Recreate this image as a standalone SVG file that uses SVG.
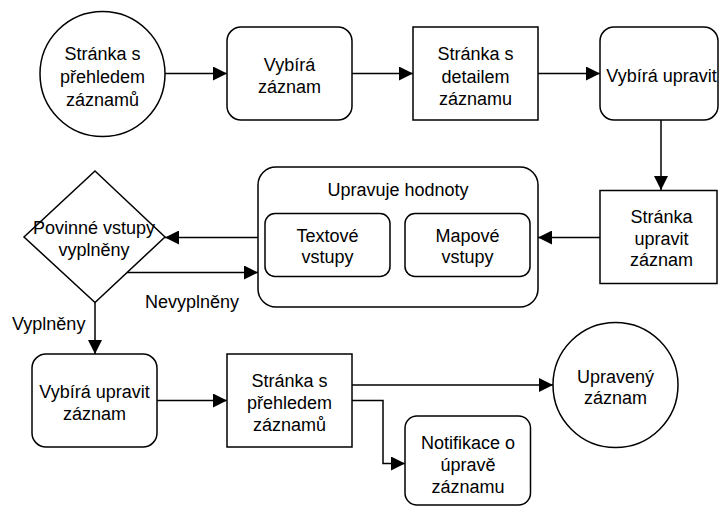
<svg xmlns="http://www.w3.org/2000/svg" width="720" height="507" viewBox="0 0 720 507">
  <style>
    .shape { fill: #ffffff; stroke: #000000; stroke-width: 1.5; }
    .edge { fill: none; stroke: #000000; stroke-width: 1.5; }
    text { font-family: "Liberation Sans", Arial, Helvetica, sans-serif; font-size: 18px; fill: #000000; text-anchor: middle; }
    .left { text-anchor: start; }
  </style>
  <defs>
    <marker id="arrow" markerUnits="userSpaceOnUse" markerWidth="15" markerHeight="14" refX="14" refY="7" orient="auto">
      <path d="M0,0 L14,7 L0,14 z" fill="#000000"/>
    </marker>
  </defs>
  <rect width="720" height="507" fill="#ffffff"/>

  <!-- connectors -->
  <g id="connectors">
    <path class="edge" d="M165,73.5 H227" marker-end="url(#arrow)"/>
    <path class="edge" d="M352,73.5 H413" marker-end="url(#arrow)"/>
    <path class="edge" d="M538,73.5 H600" marker-end="url(#arrow)"/>
    <path class="edge" d="M661,120 V190" marker-end="url(#arrow)"/>
    <path class="edge" d="M600,237.5 H538" marker-end="url(#arrow)"/>
    <path class="edge" d="M258,237.5 H165" marker-end="url(#arrow)"/>
    <path class="edge" d="M127,272.5 H258" marker-end="url(#arrow)"/>
    <path class="edge" d="M95,302.5 V354" marker-end="url(#arrow)"/>
    <path class="edge" d="M157,400.5 H227" marker-end="url(#arrow)"/>
    <path class="edge" d="M352,385 H553" marker-end="url(#arrow)"/>
    <path class="edge" d="M352,400.5 H383 V463.5 H405" marker-end="url(#arrow)"/>
    <text class="left" x="145" y="308">Nevyplněny</text>
    <text class="left" x="12" y="329.5">Vyplněny</text>
  </g>

  <!-- top row -->
  <g id="start-overview">
    <circle class="shape" cx="102.5" cy="74" r="62.5"/>
    <text x="102.5" y="60">Stránka s</text>
    <text x="102.5" y="83">přehledem</text>
    <text x="102.5" y="106">záznamů</text>
  </g>
  <g id="select-record">
    <rect class="shape" x="227" y="27" width="125" height="93" rx="14"/>
    <text x="289.5" y="71">Vybírá</text>
    <text x="289.5" y="93">záznam</text>
  </g>
  <g id="detail-page">
    <rect class="shape" x="413" y="27" width="125" height="93"/>
    <text x="475.5" y="60">Stránka s</text>
    <text x="475.5" y="82.5">detailem</text>
    <text x="475.5" y="105">záznamu</text>
  </g>
  <g id="select-edit">
    <rect class="shape" x="600" y="27" width="118" height="93" rx="14"/>
    <text x="661.5" y="81.5">Vybírá upravit</text>
  </g>

  <!-- middle row -->
  <g id="edit-page">
    <rect class="shape" x="600" y="190.5" width="117" height="93"/>
    <text x="661.5" y="223">Stránka</text>
    <text x="661.5" y="244.5">upravit</text>
    <text x="661.5" y="266">záznam</text>
  </g>
  <g id="edit-values">
    <rect class="shape" x="258" y="167" width="280" height="140" rx="18"/>
    <text x="398" y="195.5">Upravuje hodnoty</text>
    <g id="text-inputs">
      <rect class="shape" x="265" y="213.5" width="125" height="63" rx="10"/>
      <text x="327.5" y="241.5">Textové</text>
      <text x="327.5" y="263">vstupy</text>
    </g>
    <g id="map-inputs">
      <rect class="shape" x="405" y="213.5" width="125" height="63" rx="10"/>
      <text x="467.5" y="241.5">Mapové</text>
      <text x="467.5" y="263">vstupy</text>
    </g>
  </g>
  <g id="required-check">
    <polygon class="shape" points="95,171 165,237 95,302.5 24,237"/>
    <text x="94" y="233.5">Povinné vstupy</text>
    <text x="94" y="255.5">vyplněny</text>
  </g>

  <!-- bottom row -->
  <g id="confirm-edit">
    <rect class="shape" x="32" y="354" width="125" height="93" rx="14"/>
    <text x="94.5" y="398">Vybírá upravit</text>
    <text x="94.5" y="420">záznam</text>
  </g>
  <g id="overview-page">
    <rect class="shape" x="227" y="354" width="125" height="93"/>
    <text x="289.5" y="386.5">Stránka s</text>
    <text x="289.5" y="408.5">přehledem</text>
    <text x="289.5" y="430.5">záznamů</text>
  </g>
  <g id="edited-record">
    <circle class="shape" cx="615.5" cy="385" r="62.5"/>
    <text x="615.5" y="382.5">Upravený</text>
    <text x="615.5" y="404">záznam</text>
  </g>
  <g id="edit-notification">
    <rect class="shape" x="405" y="416" width="125.5" height="89" rx="12"/>
    <text x="468" y="449">Notifikace o</text>
    <text x="468" y="471">úpravě</text>
    <text x="468" y="493">záznamu</text>
  </g>
</svg>
